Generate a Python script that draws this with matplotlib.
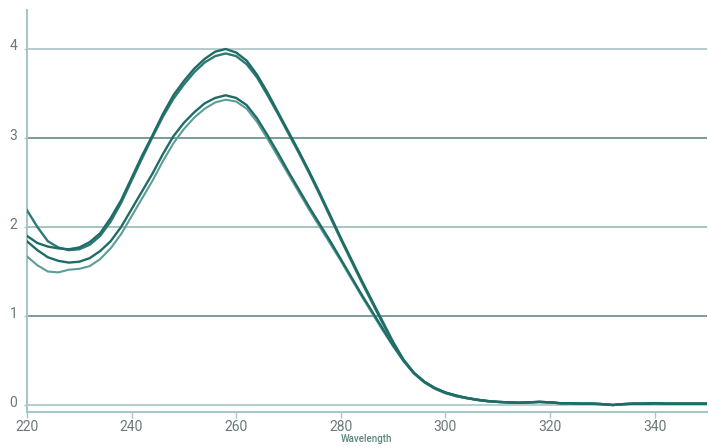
import matplotlib
matplotlib.use("Agg")
import matplotlib.pyplot as plt
import matplotlib.transforms as mtransforms

wavelength = list(range(220, 352, 2))

tail = [0.035, 0.03, 0.025, 0.03, 0.035, 0.03, 0.02, 0.02, 0.015, 0.015, 0.01, 0.0,
        0.01, 0.015, 0.015, 0.02, 0.015, 0.015, 0.015, 0.015, 0.015]

series_a = [1.90, 1.82, 1.78, 1.76, 1.75, 1.77, 1.83, 1.93, 2.10, 2.30, 2.55, 2.80,
            3.03, 3.27, 3.48, 3.64, 3.78, 3.89, 3.97, 4.00, 3.96, 3.87, 3.71, 3.51,
            3.29, 3.07, 2.85, 2.62, 2.38, 2.13, 1.88, 1.64, 1.40, 1.17, 0.94, 0.71,
            0.51, 0.36, 0.26, 0.19, 0.14, 0.11, 0.08, 0.06, 0.045] + tail
series_b = [2.19, 2.00, 1.84, 1.77, 1.74, 1.75, 1.80, 1.90, 2.06, 2.27, 2.52, 2.77,
            3.01, 3.24, 3.44, 3.60, 3.74, 3.85, 3.92, 3.95, 3.92, 3.83, 3.68, 3.48,
            3.27, 3.05, 2.83, 2.60, 2.36, 2.11, 1.86, 1.62, 1.38, 1.15, 0.92, 0.70,
            0.50, 0.36, 0.26, 0.19, 0.14, 0.105, 0.08, 0.06, 0.045] + tail
series_c = [1.84, 1.74, 1.66, 1.62, 1.60, 1.61, 1.65, 1.73, 1.84, 2.00, 2.20, 2.40,
            2.60, 2.82, 3.02, 3.17, 3.29, 3.39, 3.45, 3.48, 3.45, 3.37, 3.22, 3.03,
            2.83, 2.62, 2.42, 2.22, 2.03, 1.84, 1.64, 1.44, 1.24, 1.05, 0.86, 0.67,
            0.50, 0.36, 0.26, 0.19, 0.14, 0.10, 0.08, 0.06, 0.045] + tail
series_d = [1.67, 1.57, 1.50, 1.49, 1.52, 1.53, 1.56, 1.64, 1.76, 1.92, 2.12, 2.32,
            2.52, 2.74, 2.94, 3.10, 3.23, 3.33, 3.40, 3.43, 3.41, 3.33, 3.18, 2.99,
            2.79, 2.59, 2.39, 2.19, 2.00, 1.81, 1.62, 1.42, 1.22, 1.03, 0.84, 0.66,
            0.49, 0.35, 0.25, 0.18, 0.13, 0.10, 0.075, 0.055, 0.04] + tail

x_ticks = [220, 240, 260, 280, 300, 320, 340]
y_ticks = [0, 1, 2, 3, 4]

fig = plt.figure(figsize=(7.09, 4.47), dpi=100)
ax = fig.add_axes([0.038, 0.078, 0.959, 0.900])
ax.set_xlim(220, 350)
ax.set_ylim(-0.08, 4.44)

grid_colors = {0: "#b4cfcf", 1: "#7d9c9a", 2: "#a6c5bf", 3: "#7d9a98", 4: "#b6cbcf"}
for yv in y_ticks:
    ax.axhline(yv, color=grid_colors[yv], lw=1.4, zorder=1)

ax.plot(wavelength, series_d, color="#5e9c96", lw=1.5, zorder=3)
ax.plot(wavelength, series_c, color="#1f6c66", lw=1.7, zorder=3)
ax.plot(wavelength, series_b, color="#2d7a74", lw=1.7, zorder=3)
ax.plot(wavelength, series_a, color="#1f6c66", lw=1.7, zorder=3)

for s in ["top", "right"]:
    ax.spines[s].set_visible(False)
for s in ["left", "bottom"]:
    ax.spines[s].set_color("#a9c6c6")
    ax.spines[s].set_linewidth(1.5)

ax.set_xticks(x_ticks)
ax.set_xticklabels([str(v) for v in x_ticks], fontfamily="Roboto", fontsize=10, color="#6a7877")
ax.set_yticks(y_ticks)
ax.set_yticklabels([str(v) for v in y_ticks], fontfamily="Roboto", fontsize=10, color="#6a7877")
ax.tick_params(axis="x", length=4, width=1, color="#a9c6c6", pad=2)
ax.tick_params(axis="y", length=2, width=1, color="#a9c6c6", pad=5)
offset = mtransforms.ScaledTranslation(0, 4 / 100, fig.dpi_scale_trans)
for lbl in ax.get_yticklabels():
    lbl.set_transform(lbl.get_transform() + offset)

ax.set_xlabel("Wavelength", fontfamily="Roboto", fontsize=7, fontweight="medium",
              color="#5a8580", labelpad=0)

fig.savefig("out.png", dpi=100, facecolor="white")
